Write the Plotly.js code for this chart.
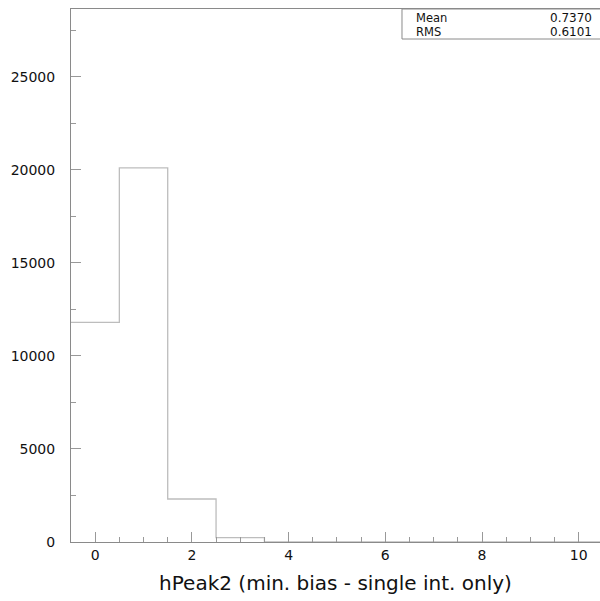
<!DOCTYPE html>
<html>
<head>
<meta charset="utf-8">
<script src="https://cdn.plot.ly/plotly-3.0.1.min.js"></script>
<style>html,body{margin:0;padding:0;background:#fff;}#chart{width:600px;height:601px;}</style>
</head>
<body>
<div id="chart"></div>
<script>
// Histogram data (bin centers and counts, bin width 1)
const binCenters = [0, 1, 2, 3, 4, 5, 6, 7, 8, 9, 10];
const counts = [11800, 20100, 2310, 240, 0, 0, 0, 0, 0, 0, 0];
const statLabels = ["Mean", "RMS"];
const statValues = ["0.7370", "0.6101"];
const xTitle = "hPeak2 (min. bias - single int. only)";

// Build step outline from bin edges (drawn by library scales)
const binWidth = 1;
const stepX = [], stepY = [];
for (let i = 0; i < binCenters.length; i++) {
  stepX.push(binCenters[i] - binWidth / 2);
  stepY.push(counts[i]);
}
stepX.push(binCenters[binCenters.length - 1] + binWidth / 2);
stepY.push(counts[counts.length - 1]);

const trace = {
  x: stepX, y: stepY, type: 'scatter', mode: 'lines',
  line: {shape: 'hv', color: '#bdbdbd', width: 1.3},
  hoverinfo: 'skip', showlegend: false
};

const font = {family: 'DejaVu Sans, Arial, sans-serif', color: '#111'};
const annotations = [];
statLabels.forEach((s, i) => {
  const yy = [0.983, 0.957][i];
  annotations.push({xref: 'paper', yref: 'paper', x: 0.648, y: yy, xanchor: 'left', yanchor: 'middle',
    text: s, showarrow: false, font: Object.assign({size: 11.5}, font)});
  annotations.push({xref: 'paper', yref: 'paper', x: 0.989, y: yy, xanchor: 'right', yanchor: 'middle',
    text: statValues[i], showarrow: false, font: Object.assign({size: 12}, font)});
});

const layout = {
  width: 600, height: 601,
  margin: {l: 71, r: 0, t: 9, b: 59},
  paper_bgcolor: '#fff', plot_bgcolor: '#fff',
  showlegend: false,
  font: Object.assign({size: 14}, font),
  xaxis: {
    range: [-0.5, 10.44], showgrid: false, zeroline: false,
    showline: true, linecolor: '#8a8a8a', linewidth: 1, mirror: true,
    ticks: 'inside', ticklen: 10, tickcolor: '#999', tickwidth: 1,
    tickmode: 'linear', tick0: 0, dtick: 2,
    minor: {ticks: 'inside', ticklen: 5, dtick: 0.5, tick0: 0, tickcolor: '#999', showgrid: false},
    tickfont: Object.assign({size: 14}, font),
    title: {text: xTitle, font: Object.assign({size: 20}, font), standoff: 14}
  },
  yaxis: {
    range: [0, 28640], showgrid: false, zeroline: false,
    showline: true, linecolor: '#8a8a8a', linewidth: 1,
    ticks: 'inside', ticklen: 10, tickcolor: '#999', tickwidth: 1,
    tickmode: 'linear', tick0: 0, dtick: 5000, tickformat: 'd',
    minor: {ticks: 'inside', ticklen: 5, dtick: 2500, tick0: 0, tickcolor: '#999', showgrid: false},
    tickfont: Object.assign({size: 14}, font),
    ticklabelstandoff: 12
  },
  shapes: [{
    type: 'rect', xref: 'paper', yref: 'paper', x0: 0.6257, x1: 1.01, y0: 0.9437, y1: 1,
    line: {color: '#8a8a8a', width: 1}, fillcolor: 'rgba(255,255,255,0)'
  }],
  annotations: annotations
};

Plotly.newPlot('chart', [trace], layout, {displayModeBar: false, staticPlot: true});
</script>
</body>
</html>
